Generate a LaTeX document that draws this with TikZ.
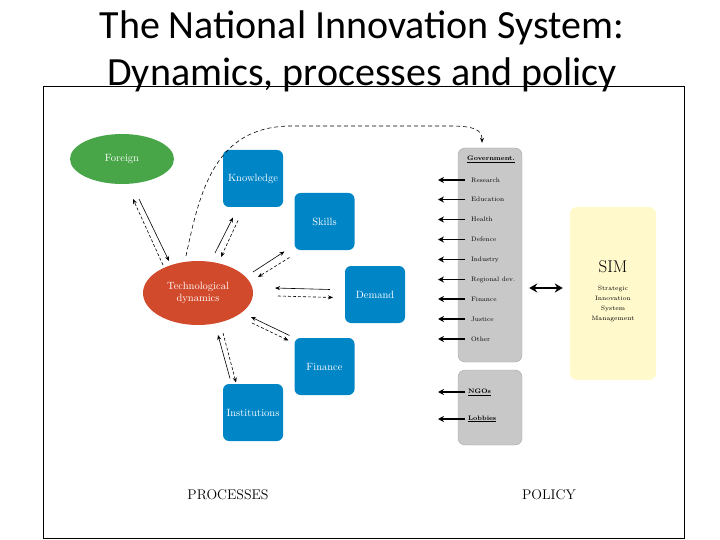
\documentclass[tikz,border=0pt]{standalone}
\usepackage{fontspec}
\newfontfamily\titlefont{Carlito}
\usetikzlibrary{shapes.geometric,calc,positioning,arrows.meta}
\definecolor{procblue}{RGB}{0,133,199}
\definecolor{foreigngreen}{RGB}{72,165,72}
\definecolor{techred}{RGB}{210,74,44}
\definecolor{polgray}{RGB}{200,200,200}
\definecolor{simyellow}{RGB}{255,249,204}
\tikzstyle{diagram}=[
  x=1pt,y=-1pt,>={Stealth[length=5pt,width=4pt]},font=\fontsize{10.5}{12}\selectfont
]
\tikzstyle{procbox}=[
  fill=procblue,rounded corners=6pt,minimum width=60pt,minimum height=57pt,text=white,inner sep=0pt
]
\tikzstyle{actor}=[
  ellipse,text=white,inner sep=0pt,align=center
]
\tikzstyle{panel}=[
  fill=polgray,draw=gray!70,rounded corners=7pt,minimum width=64pt
]
\tikzstyle{govitem}=[
  anchor=west,inner sep=0pt,font=\fontsize{6.5}{7}\selectfont
]
\tikzstyle{govarr}=[
  -{Stealth[length=6pt,width=6pt]},line width=1.2pt
]
\tikzstyle{flow}=[
  ->,line width=0.6pt
]
\tikzstyle{backflow}=[
  ->,line width=0.6pt,dash pattern=on 3pt off 2pt
]

\begin{document}
\begin{tikzpicture}[diagram]
  \useasboundingbox (0,0) rectangle (720,540);
  \draw[thin] (43,86) rectangle (684,538);
  \node (title) at (362,51) [align=center,font=\titlefont\fontsize{40}{47}\selectfont]
    {The National Innovation System:\\Dynamics, processes and policy};

  % processes
  \node (foreign) at (122,159) [actor,fill=foreigngreen,minimum width=104pt,minimum height=50pt] {Foreign};
  \node (tech) at (198,293) [actor,fill=techred,minimum width=110pt,minimum height=64pt] {Technological\\dynamics};
  \node (knowledge) at (253,178.5) [procbox] {Knowledge};
  \node (skills) at (324.5,221.5) [procbox] {Skills};
  \node (demand) at (375,294.5) [procbox] {Demand};
  \node (finance) at (324.5,366.5) [procbox] {Finance};
  \node (institutions) at (253,412.5) [procbox] {Institutions};

  \draw [flow] ($(foreign)+(17,40)$) -- ($(tech)+(-29,-32)$);
  \draw [backflow] ($(tech)+(-35,-28)$) -- ($(foreign)+(11,40)$);
  \draw [flow] ($(tech)+(17,-40)$) -- ($(knowledge)+(-20,39)$);
  \draw [backflow] ($(knowledge)+(-15,42)$) -- ($(tech)+(23,-36)$);
  \draw [flow] ($(tech)+(55,-21)$) -- ($(skills)+(-40,30)$);
  \draw [backflow] ($(skills)+(-35,36)$) -- ($(tech)+(60,-16)$);
  \draw [flow] ($(demand)+(-45,-5)$) -- ($(tech)+(77,-5)$);
  \draw [backflow] ($(tech)+(80,3)$) -- ($(demand)+(-42,3)$);
  \draw [flow] ($(finance)+(-35,-31)$) -- ($(tech)+(53,24)$);
  \draw [backflow] ($(tech)+(54,30)$) -- ($(finance)+(-36,-26)$);
  \draw [flow] ($(institutions)+(-23,-34)$) -- ($(tech)+(20,42)$);
  \draw [backflow] ($(tech)+(25,40)$) -- ($(institutions)+(-17,-30)$);

  % policy
  \node (gov) at (490,255) [panel,minimum height=214pt] {};
  \node (ngo) at (490,407.5) [panel,minimum height=75pt] {};
  \node (sim) at (613,293.5) [fill=simyellow,rounded corners=7pt,minimum width=86pt,minimum height=173pt] {};

  \node (government) at (467,159) [govitem] {\textbf{\underline{Government.}}};
  \node (research) at ($(government.west)+(4,21)$) [govitem] {Research};
  \node (education) at ($(research.west)+(0,19.5)$) [govitem] {Education};
  \node (health) at ($(education.west)+(0,20)$) [govitem] {Health};
  \node (defence) at ($(health.west)+(0,20)$) [govitem] {Defence};
  \node (industry) at ($(defence.west)+(0,20)$) [govitem] {Industry};
  \node (regional) at ($(industry.west)+(0,20)$) [govitem] {Regional dev.};
  \node (govfinance) at ($(regional.west)+(0,19.5)$) [govitem] {Finance};
  \node (justice) at ($(govfinance.west)+(0,20)$) [govitem] {Justice};
  \node (other) at ($(justice.west)+(0,20)$) [govitem] {Other};
  \node (ngos) at (468,392) [govitem] {\textbf{\underline{NGOs}}};
  \node (lobbies) at (468,419) [govitem] {\textbf{\underline{Lobbies}}};

  \draw [govarr] ([xshift=-6pt]research.west) -- ([xshift=-33pt]research.west);
  \draw [govarr] ([xshift=-6pt]education.west) -- ([xshift=-33pt]education.west);
  \draw [govarr] ([xshift=-6pt]health.west) -- ([xshift=-33pt]health.west);
  \draw [govarr] ([xshift=-6pt]defence.west) -- ([xshift=-33pt]defence.west);
  \draw [govarr] ([xshift=-6pt]industry.west) -- ([xshift=-33pt]industry.west);
  \draw [govarr] ([xshift=-6pt]regional.west) -- ([xshift=-33pt]regional.west);
  \draw [govarr] ([xshift=-6pt]govfinance.west) -- ([xshift=-33pt]govfinance.west);
  \draw [govarr] ([xshift=-6pt]justice.west) -- ([xshift=-33pt]justice.west);
  \draw [govarr] ([xshift=-6pt]other.west) -- ([xshift=-33pt]other.west);
  \draw [govarr] ([xshift=-3pt]ngos.west) -- ([xshift=-30pt]ngos.west);
  \draw [govarr] ([xshift=-3pt]lobbies.west) -- ([xshift=-30pt]lobbies.west);

  \node (simtitle) at ($(sim)+(0,-27)$) [font=\fontsize{17}{18}\selectfont] {SIM};
  \node (simtext) at ($(sim)+(0,10)$) [align=center,font=\fontsize{6.3}{10}\selectfont]
    {Strategic\\Innovation\\System\\Management};
  \draw [{Stealth[length=8pt,width=9pt]}-{Stealth[length=8pt,width=9pt]},line width=2.6pt]
    ($(gov.east)+(7,33)$) -- ($(sim.west)+(-7,-5.5)$);

  \draw [->,line width=0.6pt,dash pattern=on 4pt off 3pt] ($(tech)+(-12,-37)$) .. controls (200,190) and (215,127) .. (290,126)
    -- (450,126) .. controls (475,126) and (482,130) .. ($(gov.north)+(-8,-5)$);

  \node (processes) at (228,495) [font=\fontsize{14}{16}\selectfont] {PROCESSES};
  \node (policy) at (549,495) [font=\fontsize{14}{16}\selectfont] {POLICY};
\end{tikzpicture}
\end{document}
